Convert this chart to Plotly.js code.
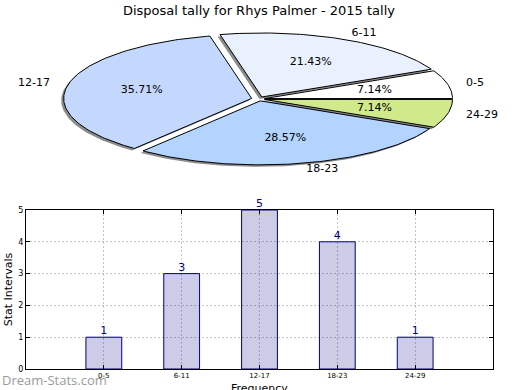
<!DOCTYPE html>
<html>
<head>
<meta charset="utf-8">
<script src="https://cdn.plot.ly/plotly-3.0.1.min.js"></script>
<style>html,body{margin:0;padding:0;background:#fff;}#chart{width:520px;height:390px;}</style>
</head>
<body>
<div id="chart"></div>
<script>
// ---- data ----
const categories = ["0-5", "6-11", "12-17", "18-23", "24-29"];
const counts = [1, 3, 5, 4, 1];
const pieColors = ["#ffffff", "#eaf1fe", "#c4d7fd", "#b3d4fe", "#cfe98b"];
const explode = [0.03, 0.035, 0.04, 0.03, 0.03];
const chartTitle = "Disposal tally for Rhys Palmer - 2015 tally";

// ---- pie geometry (pie subplot uses pixel-like units) ----
const CX = 259, CY = 99, RX = 188, RY = 64;
const FONT = "DejaVu Sans, Liberation Sans, sans-serif";
const total = counts.reduce((a, b) => a + b, 0);

const traces = [];
const shadows = [], wedges = [], pctText = {x: [], y: [], t: []};
const labR = {x: [], y: [], t: []}, labL = {x: [], y: [], t: []};
let start = 0;
counts.forEach((v, i) => {
  const frac = v / total;
  const a1 = start, a2 = start + frac * 360;
  const mid = (a1 + a2) / 2 * Math.PI / 180;
  const ox = CX + explode[i] * RX * Math.cos(mid);
  const oy = CY - explode[i] * RY * Math.sin(mid);
  const xs = [ox], ys = [oy];
  const n = Math.max(4, Math.ceil(a2 - a1));
  for (let k = 0; k <= n; k++) {
    const t = (a1 + (a2 - a1) * k / n) * Math.PI / 180;
    xs.push(ox + RX * Math.cos(t));
    ys.push(oy - RY * Math.sin(t));
  }
  xs.push(ox); ys.push(oy);
  shadows.push({type: "scatter", mode: "lines", x: xs.map(x => x - 2.5), y: ys.map(y => y + 2),
    fill: "toself", fillcolor: "rgba(0,0,0,0.45)", line: {width: 0, color: "rgba(0,0,0,0)"},
    xaxis: "x2", yaxis: "y2", hoverinfo: "skip", showlegend: false});
  wedges.push({type: "scatter", mode: "lines", x: xs, y: ys, fill: "toself",
    fillcolor: pieColors[i], line: {width: 1, color: "#000"},
    xaxis: "x2", yaxis: "y2", hoverinfo: "skip", showlegend: false});
  pctText.x.push(ox + 0.6 * RX * Math.cos(mid));
  pctText.y.push(oy - 0.6 * RY * Math.sin(mid));
  pctText.t.push((frac * 100).toFixed(2) + "%");
  const lx = ox + 1.1 * RX * Math.cos(mid), ly = oy - 1.1 * RY * Math.sin(mid);
  if (Math.cos(mid) >= 0) { labR.x.push(lx); labR.y.push(ly); labR.t.push(categories[i]); }
  else { labL.x.push(lx); labL.y.push(ly); labL.t.push(categories[i]); }
  start = a2;
});
traces.push(...shadows, ...wedges);
traces.push({type: "scatter", mode: "text", x: pctText.x, y: pctText.y, text: pctText.t,
  textposition: "middle center", textfont: {family: FONT, size: 11, color: "#000"},
  xaxis: "x2", yaxis: "y2", hoverinfo: "skip", showlegend: false, cliponaxis: false});
traces.push({type: "scatter", mode: "text", x: labR.x, y: labR.y, text: labR.t,
  textposition: "middle right", textfont: {family: FONT, size: 11, color: "#000"},
  xaxis: "x2", yaxis: "y2", hoverinfo: "skip", showlegend: false, cliponaxis: false});
traces.push({type: "scatter", mode: "text", x: labL.x, y: labL.y, text: labL.t,
  textposition: "middle left", textfont: {family: FONT, size: 11, color: "#000"},
  xaxis: "x2", yaxis: "y2", hoverinfo: "skip", showlegend: false, cliponaxis: false});

// ---- bar chart ----
traces.push({type: "bar", x: categories, y: counts, width: 0.46,
  marker: {color: "rgba(0,0,128,0.2)", line: {color: "#000080", width: 1}},
  xaxis: "x", yaxis: "y", hoverinfo: "skip", showlegend: false});
traces.push({type: "scatter", mode: "text", x: categories, y: counts,
  text: counts.map(String), textposition: "top center", cliponaxis: false,
  textfont: {family: FONT, size: 11, color: "#000080"},
  xaxis: "x", yaxis: "y", hoverinfo: "skip", showlegend: false});

const layout = {
  width: 520, height: 390,
  margin: {l: 0, r: 0, t: 0, b: 0},
  paper_bgcolor: "#fff", plot_bgcolor: "rgba(0,0,0,0)",
  font: {family: FONT, color: "#000"},
  showlegend: false,
  title: {text: chartTitle, x: 0.498, xanchor: "center", y: 1 - 10 / 390, yanchor: "middle",
    font: {family: FONT, size: 13, color: "#000"}},
  xaxis: {domain: [26 / 520, 493 / 520], type: "category", range: [-1, 5],
    showline: true, mirror: "ticks", linecolor: "#000", linewidth: 1,
    ticks: "inside", ticklen: 4, tickcolor: "#000",
    showgrid: true, gridcolor: "#c4c4c4", griddash: "2px,2px", gridwidth: 1,
    tickfont: {family: FONT, size: 7, color: "#000"}, zeroline: false, layer: "above traces"},
  yaxis: {domain: [1 - 369 / 390, 1 - 210 / 390], range: [0, 5], dtick: 1,
    showline: true, mirror: "ticks", linecolor: "#000", linewidth: 1,
    ticks: "inside", ticklen: 4, tickcolor: "#000",
    showgrid: true, gridcolor: "#c4c4c4", griddash: "2px,2px", gridwidth: 1,
    tickfont: {family: FONT, size: 8, color: "#000"}, zeroline: false,
    title: {text: "Stat Intervals", font: {family: FONT, size: 11, color: "#000"}, standoff: 3}},
  xaxis2: {domain: [0, 1], range: [0, 520], visible: false, fixedrange: true},
  yaxis2: {domain: [0.5, 1], range: [195, 0], visible: false, fixedrange: true, anchor: "x2"},
  annotations: [
    {text: "Frequency", xref: "paper", yref: "paper", x: 259 / 520, y: 1 - 380 / 390,
     xanchor: "center", yanchor: "top", showarrow: false,
     font: {family: FONT, size: 11, color: "#000"}},
    {text: "Dream-Stats.com", xref: "paper", yref: "paper", x: 0, y: 1 - 380 / 390,
     xanchor: "left", yanchor: "middle", showarrow: false,
     font: {family: "Open Sans, DejaVu Sans, sans-serif", size: 13, color: "#9a9a9a"}}
  ]
};
Plotly.newPlot("chart", traces, layout, {displayModeBar: false, staticPlot: true});
</script>
</body>
</html>
